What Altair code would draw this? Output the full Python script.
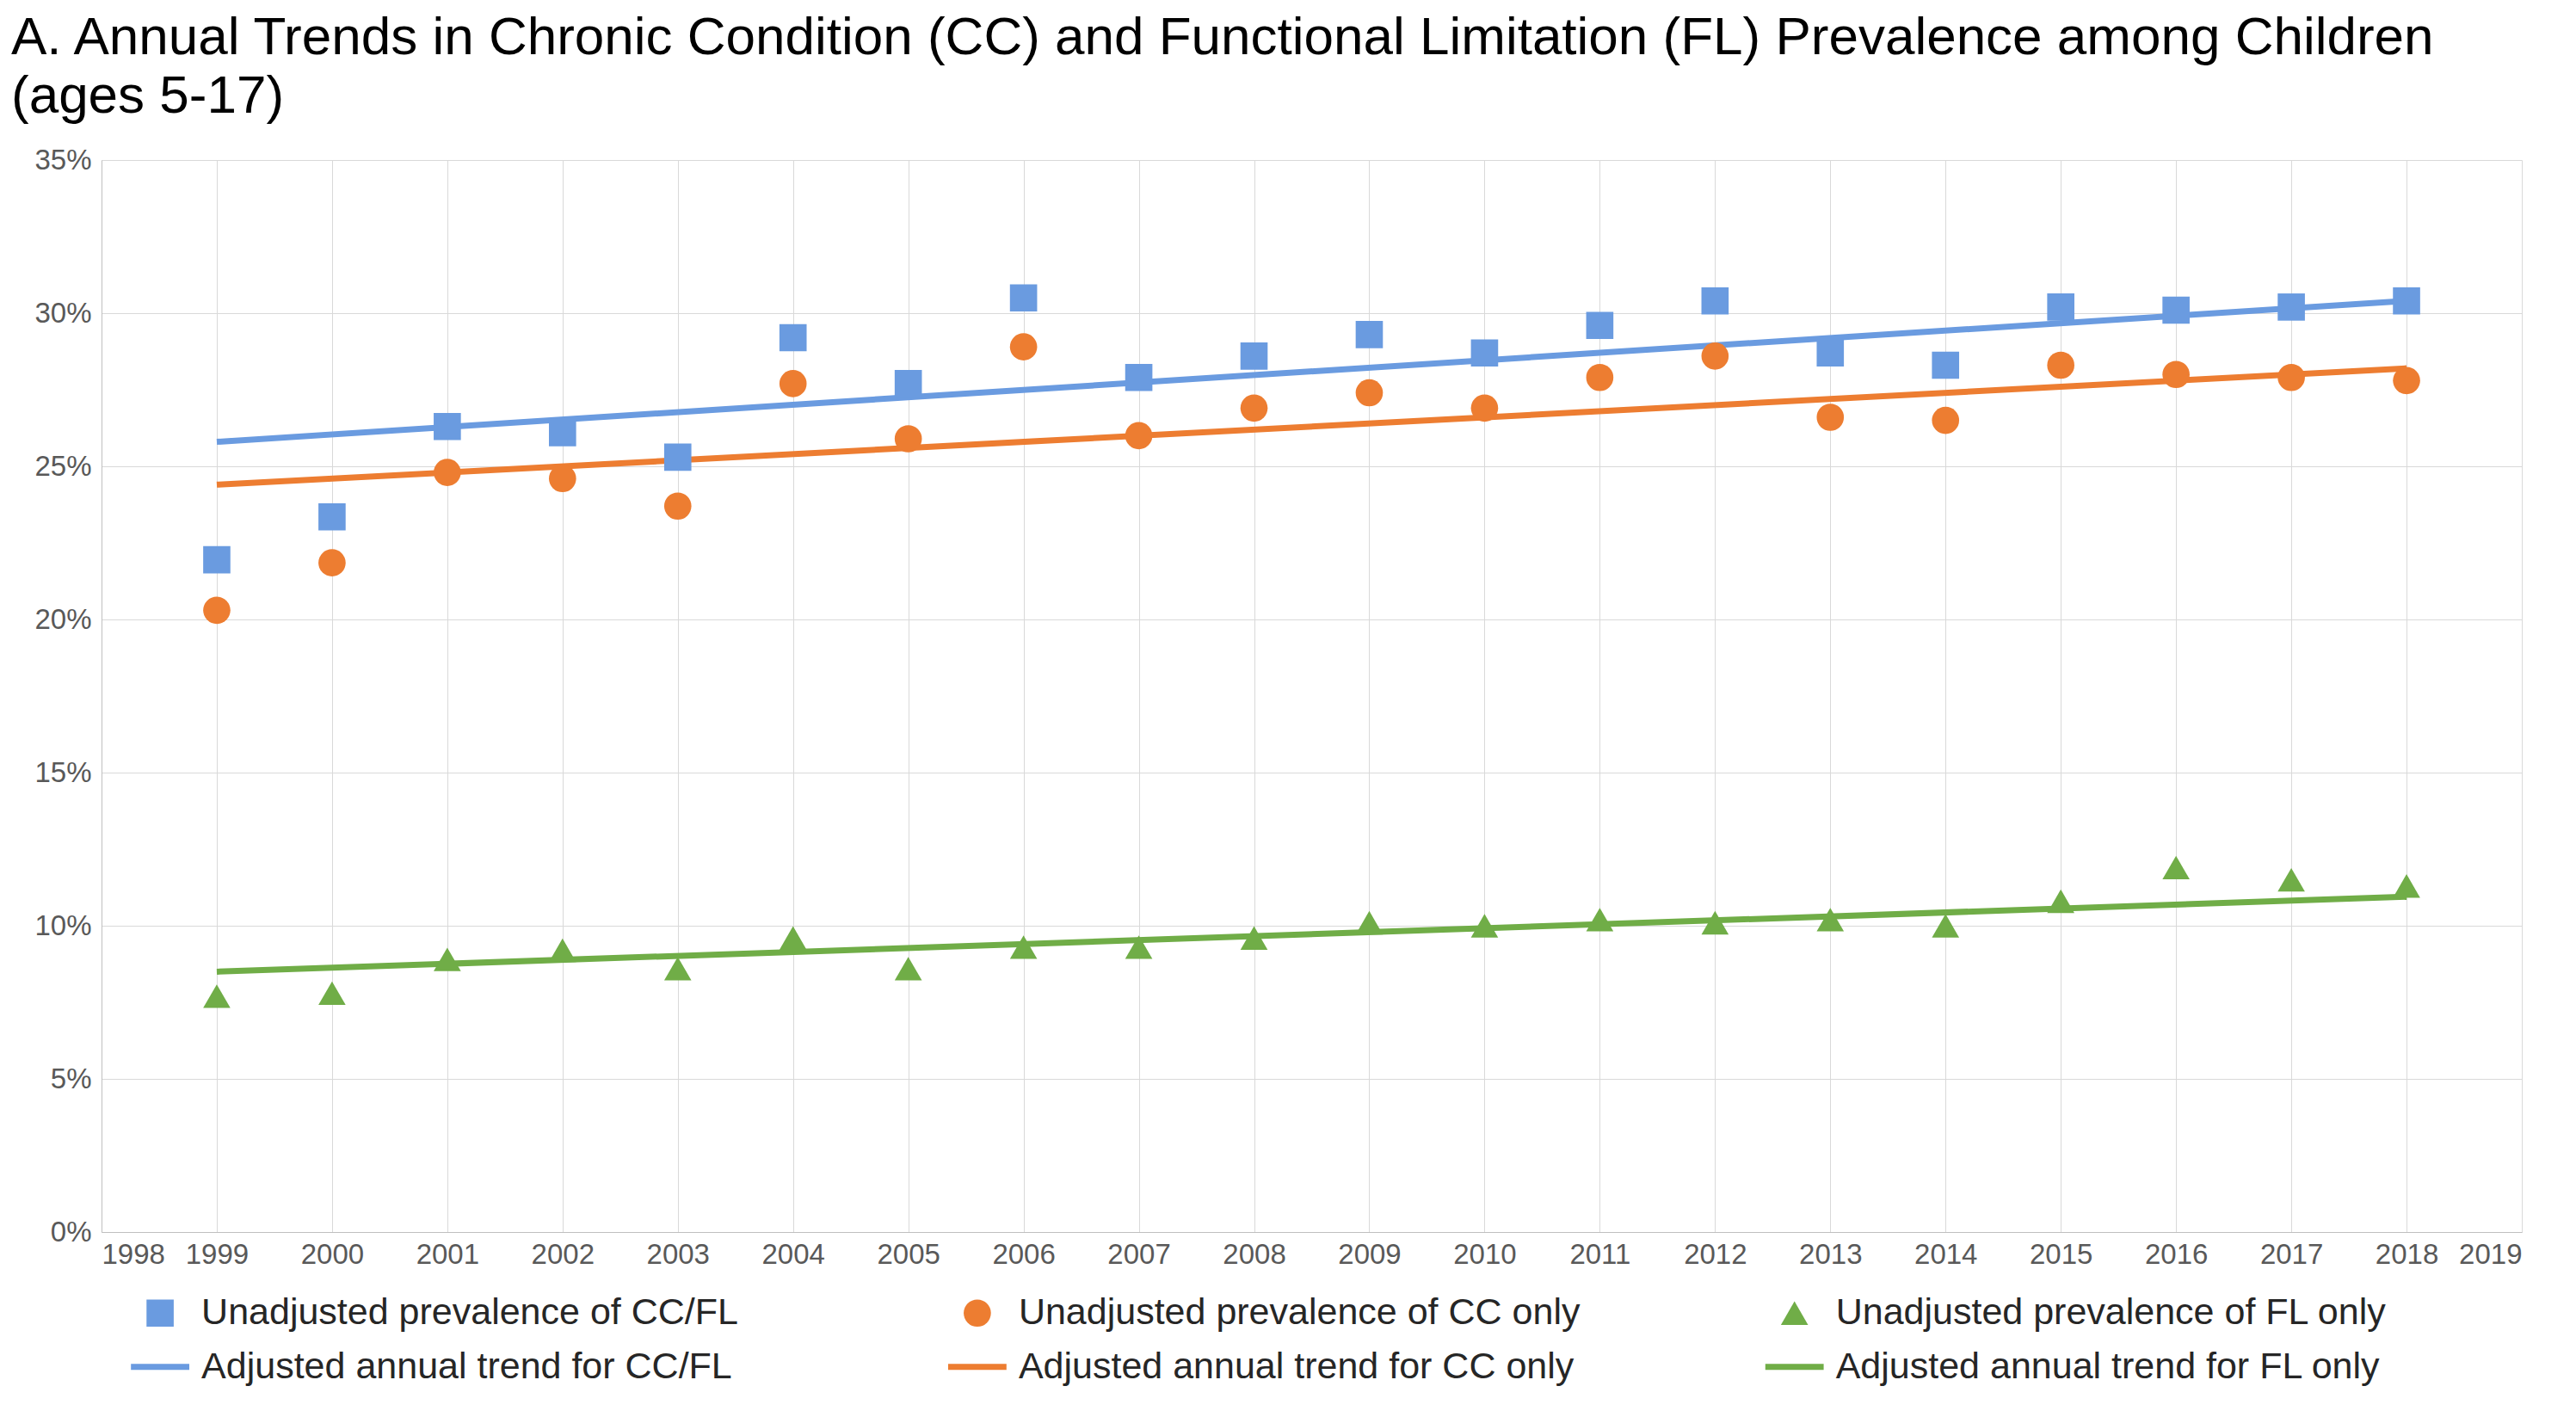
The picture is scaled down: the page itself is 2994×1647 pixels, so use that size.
import altair as alt
import pandas as pd

years = list(range(1999, 2019))
ccfl = [21.95, 23.35, 26.3, 26.1, 25.3, 29.2, 27.7, 30.5, 27.9, 28.6,
        29.3, 28.7, 29.6, 30.4, 28.7, 28.3, 30.2, 30.1, 30.2, 30.4]
cc_only = [20.3, 21.85, 24.8, 24.6, 23.7, 27.7, 25.9, 28.9, 26.0, 26.9,
           27.4, 26.9, 27.9, 28.6, 26.6, 26.5, 28.3, 28.0, 27.9, 27.8]
fl_only = [7.7, 7.8, 8.9, 9.2, 8.6, 9.6, 8.6, 9.3, 9.3, 9.6,
           10.1, 10.0, 10.2, 10.1, 10.2, 10.0, 10.8, 11.9, 11.5, 11.3]

trend_years = [1999, 2018]
trend_ccfl = [25.8, 30.4]
trend_cc = [24.4, 28.2]
trend_fl = [8.5, 10.95]

series = ["CC/FL", "CC only", "FL only"]
colors = ["#5B8FD6", "#ED7D31", "#70AD47"]
line_colors = ["#6A9BE0", "#ED7D31", "#70AD47"]
shapes = ["square", "circle", "triangle-up"]

pts = pd.concat([
    pd.DataFrame({"year": years, "value": [v / 100 for v in vals], "series": s})
    for s, vals in zip(series, [ccfl, cc_only, fl_only])
])
trends = pd.concat([
    pd.DataFrame({"year": trend_years, "value": [v / 100 for v in vals], "series": s})
    for s, vals in zip(series, [trend_ccfl, trend_cc, trend_fl])
])

FONT = "Liberation Sans"
W, H = 2813, 1246

x = alt.X("year:Q", title=None, scale=alt.Scale(domain=[1998, 2019], nice=False),
          axis=alt.Axis(format="d", values=list(range(1998, 2020)), labelOverlap=False,
                        labelFontSize=33, labelColor="#595959", ticks=False,
                        gridColor="#d9d9d9", domainColor="#bfbfbf", labelPadding=10))
y = alt.Y("value:Q", title=None, scale=alt.Scale(domain=[0, 0.35], nice=False),
          axis=alt.Axis(format=".0%", values=[i / 100 for i in range(0, 36, 5)],
                        labelFontSize=33, labelColor="#595959", ticks=False,
                        gridColor="#d9d9d9", domainColor="#bfbfbf", labelPadding=12))

lines = alt.Chart(trends).mark_line(strokeWidth=7).encode(
    x=x, y=y, detail="series:N",
    color=alt.Color("series:N", scale=alt.Scale(domain=series, range=line_colors), legend=None),
)
points = alt.Chart(pts).mark_point(filled=True, size=1000, opacity=1).encode(
    x=x, y=y,
    color=alt.Color("series:N", scale=alt.Scale(domain=series, range=colors), legend=None),
    shape=alt.Shape("series:N", scale=alt.Scale(domain=series, range=shapes), legend=None),
)
main = (lines + points).properties(width=W, height=H)

# manual two-row legend
leg_rows = pd.DataFrame({
    "col": [0, 1, 2, 0, 1, 2],
    "row": [0, 0, 0, 1, 1, 1],
    "series": series * 2,
    "kind": ["pt"] * 3 + ["line"] * 3,
    "label": ["Unadjusted prevalence of " + s for s in series]
             + ["Adjusted annual trend for " + s for s in series],
})
lx = alt.X("col:Q", axis=None, scale=alt.Scale(domain=[-0.0717, 2.89], nice=False, zero=False))
ly = alt.Y("row:O", axis=None, scale=alt.Scale(paddingOuter=0.3))
leg_pts = alt.Chart(leg_rows).transform_filter("datum.kind == 'pt'").mark_point(
    filled=True, size=1000, opacity=1).encode(
    x=lx, y=ly,
    color=alt.Color("series:N", scale=alt.Scale(domain=series, range=colors), legend=None),
    shape=alt.Shape("series:N", scale=alt.Scale(domain=series, range=shapes), legend=None),
)
leg_lines = alt.Chart(leg_rows).transform_filter("datum.kind == 'line'").mark_point(
    shape="M-1,0L1,0", filled=False, size=4600, strokeWidth=7, opacity=1).encode(
    x=lx, y=ly,
    color=alt.Color("series:N", scale=alt.Scale(domain=series, range=line_colors), legend=None),
)
leg_text = alt.Chart(leg_rows).mark_text(
    align="left", baseline="middle", dx=48, fontSize=43, font=FONT, color="#262626").encode(
    x=lx, y=ly, text="label:N")
legend = (leg_pts + leg_lines + leg_text).properties(width=W, height=125)

pad = "\u2007" * 4
chart = alt.vconcat(main, legend, spacing=20).properties(
    title=alt.TitleParams(
        text=["A. Annual Trends in Chronic Condition (CC) and Functional Limitation (FL) Prevalence among Children",
              pad + "(ages 5-17)"],
        anchor="start", frame="group", fontSize=62, font=FONT, fontWeight="normal",
        color="#000000", lineHeight=68, offset=26, dx=-105,
    ),
    background="#ffffff",
).configure_view(strokeWidth=0).configure_axis(labelFont=FONT)

chart.save("out.html", embed_options={"renderer": "svg", "actions": False})
